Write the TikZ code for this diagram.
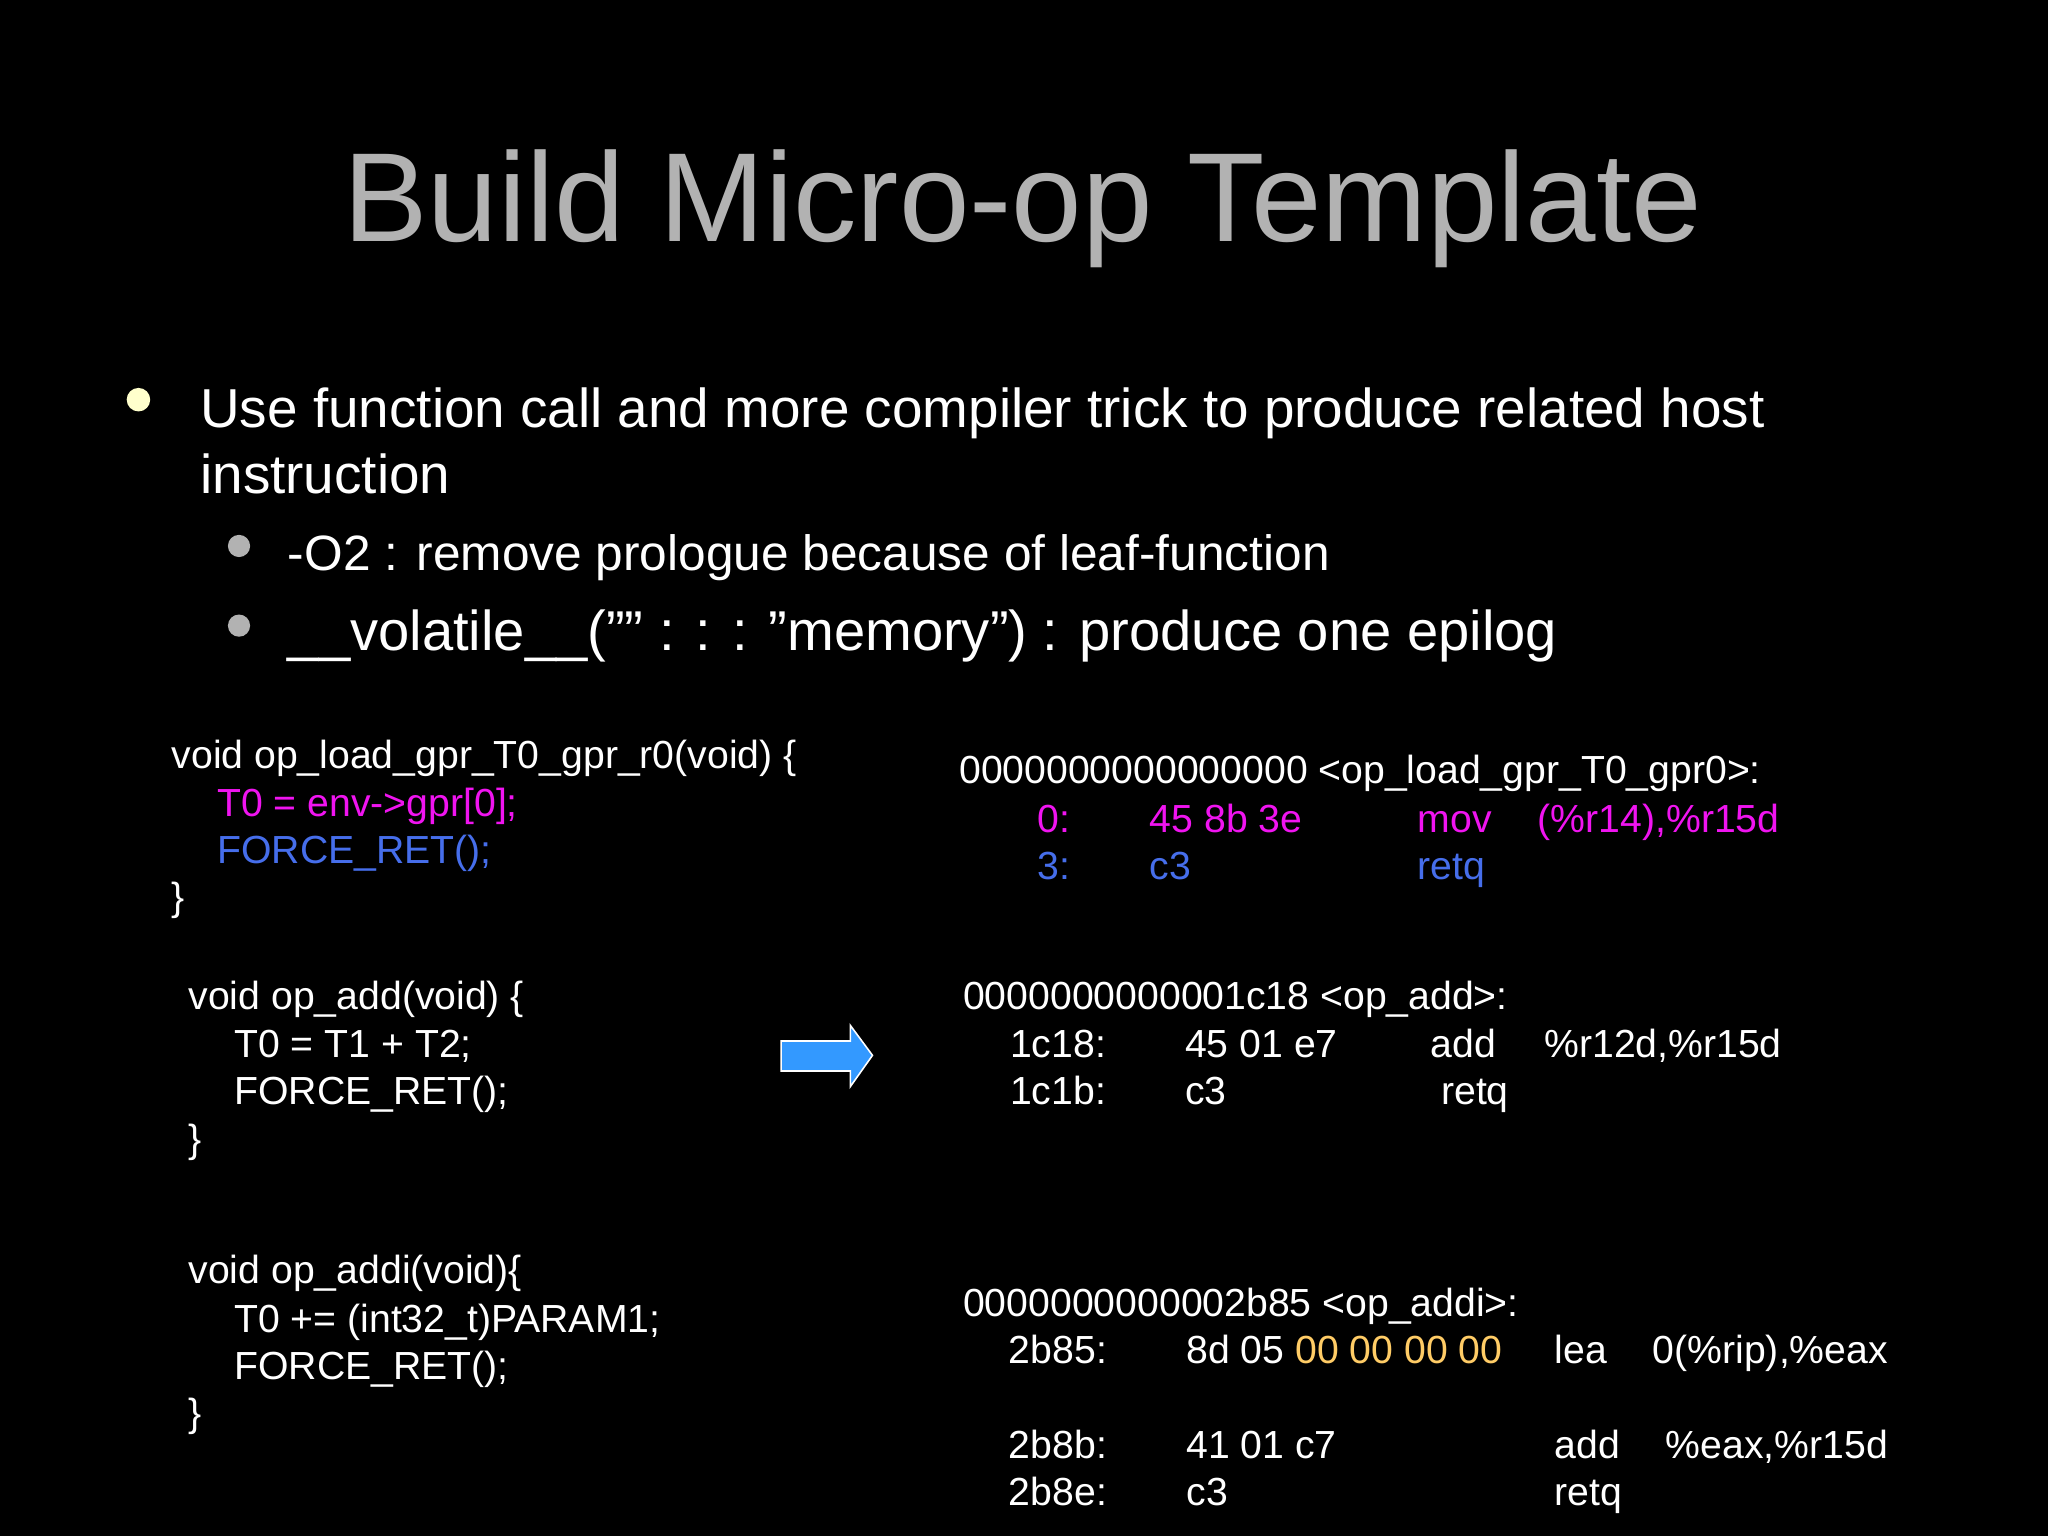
\documentclass[tikz,border=0pt]{standalone}
\usepackage{fontspec}
\setmainfont{Liberation Sans}
\definecolor{ttl}{RGB}{178,178,178}
\definecolor{mag}{RGB}{240,20,240}
\definecolor{blu}{RGB}{70,110,235}
\definecolor{yel}{RGB}{255,204,102}
\definecolor{bull}{RGB}{255,255,204}
\definecolor{arr}{RGB}{51,153,255}
\begin{document}
\begin{tikzpicture}[x=0.5pt,y=-0.5pt,
  t/.style={anchor=base west,inner sep=0pt,text=white,font=\fontsize{15}{18}\selectfont}]
\fill[black] (0,0) rectangle (1568,1176);
\useasboundingbox (0,0) rectangle (1568,1176);
\node[anchor=base,inner sep=0pt,text=ttl,font=\fontsize{48.5}{58}\selectfont] (title) at (783,185) {Build Micro-op Template};
\fill[bull] (106,306) circle (9);
\node[t,font=\fontsize{21}{25}\selectfont] (b1) at (153,327) {Use function call and more compiler trick to produce related host};
\node[t,font=\fontsize{21}{25}\selectfont] (b1b) at (153,378) {instruction};
\fill[ttl] (183,418) circle (8.5);
\fill[ttl] (183,479) circle (8.5);
\node[t,font=\fontsize{19}{23}\selectfont] (s1) at (220,437) {-O2 : remove prologue because of leaf-function};
\node[t,font=\fontsize{21.5}{26}\selectfont] (s2) at (220,498) {\_\_volatile\_\_("" : : : "memory") : produce one epilog};
% code left
\node[t] (c1) at (131,588) {void op\_load\_gpr\_T0\_gpr\_r0(void) \{};
\node[t,text=mag] (c2) at (166,625) {T0 = env->gpr[0];};
\node[t,text=blu] (c3) at (166,661) {FORCE\_RET();};
\node[t] (c4) at (131,697) {\}};
\node[t] (d1) at (144,773) {void op\_add(void) \{};
\node[t] (d2) at (179,810) {T0 = T1 + T2;};
\node[t] (d3) at (179,846) {FORCE\_RET();};
\node[t] (d4) at (144,882) {\}};
\node[t] (e1) at (144,983) {void op\_addi(void)\{};
\node[t] (e2) at (179,1020) {T0 += (int32\_t)PARAM1;};
\node[t] (e3) at (179,1056) {FORCE\_RET();};
\node[t] (e4) at (144,1092) {\}};
% right
\node[t] (r1) at (734,600) {0000000000000000 <op\_load\_gpr\_T0\_gpr0>:};
\node[t,text=mag] (r2a) at (794,637) {0:};
\node[t,text=mag] (r2b) at (880,637) {45 8b 3e};
\node[t,text=mag] (r2c) at (1085,637) {mov};
\node[t,text=mag] (r2d) at (1177,637) {(\%r14),\%r15d};
\node[t,text=blu] (r3a) at (794,673) {3:};
\node[t,text=blu] (r3b) at (880,673) {c3};
\node[t,text=blu] (r3c) at (1085,673) {retq};
\node[t] (p1) at (737,773) {0000000000001c18 <op\_add>:};
\node[t] (p2a) at (773,810) {1c18:};
\node[t] (p2b) at (907,810) {45 01 e7};
\node[t] (p2c) at (1095,810) {add};
\node[t] (p2d) at (1182,810) {\%r12d,\%r15d};
\node[t] (p3a) at (773,846) {1c1b:};
\node[t] (p3b) at (907,846) {c3};
\node[t] (p3c) at (1103,846) {retq};
\node[t] (q1) at (737,1008) {0000000000002b85 <op\_addi>:};
\node[t] (q2a) at (772,1044) {2b85:};
\node[t] (q2b) at (908,1044) {8d 05 \textcolor{yel}{00 00 00 00}};
\node[t] (q2c) at (1190,1044) {lea};
\node[t] (q2d) at (1265,1044) {0(\%rip),\%eax};
\node[t] (q3a) at (772,1117) {2b8b:};
\node[t] (q3b) at (908,1117) {41 01 c7};
\node[t] (q3c) at (1190,1117) {add};
\node[t] (q3d) at (1275,1117) {\%eax,\%r15d};
\node[t] (q4a) at (772,1153) {2b8e:};
\node[t] (q4b) at (908,1153) {c3};
\node[t] (q4c) at (1190,1153) {retq};
% arrow
\filldraw[fill=arr,draw=white,line width=0.6pt] (598,797) -- (651,797) -- (651,785) -- (668,808) -- (651,832) -- (651,820) -- (598,820) -- cycle;
\end{tikzpicture}
\end{document}
